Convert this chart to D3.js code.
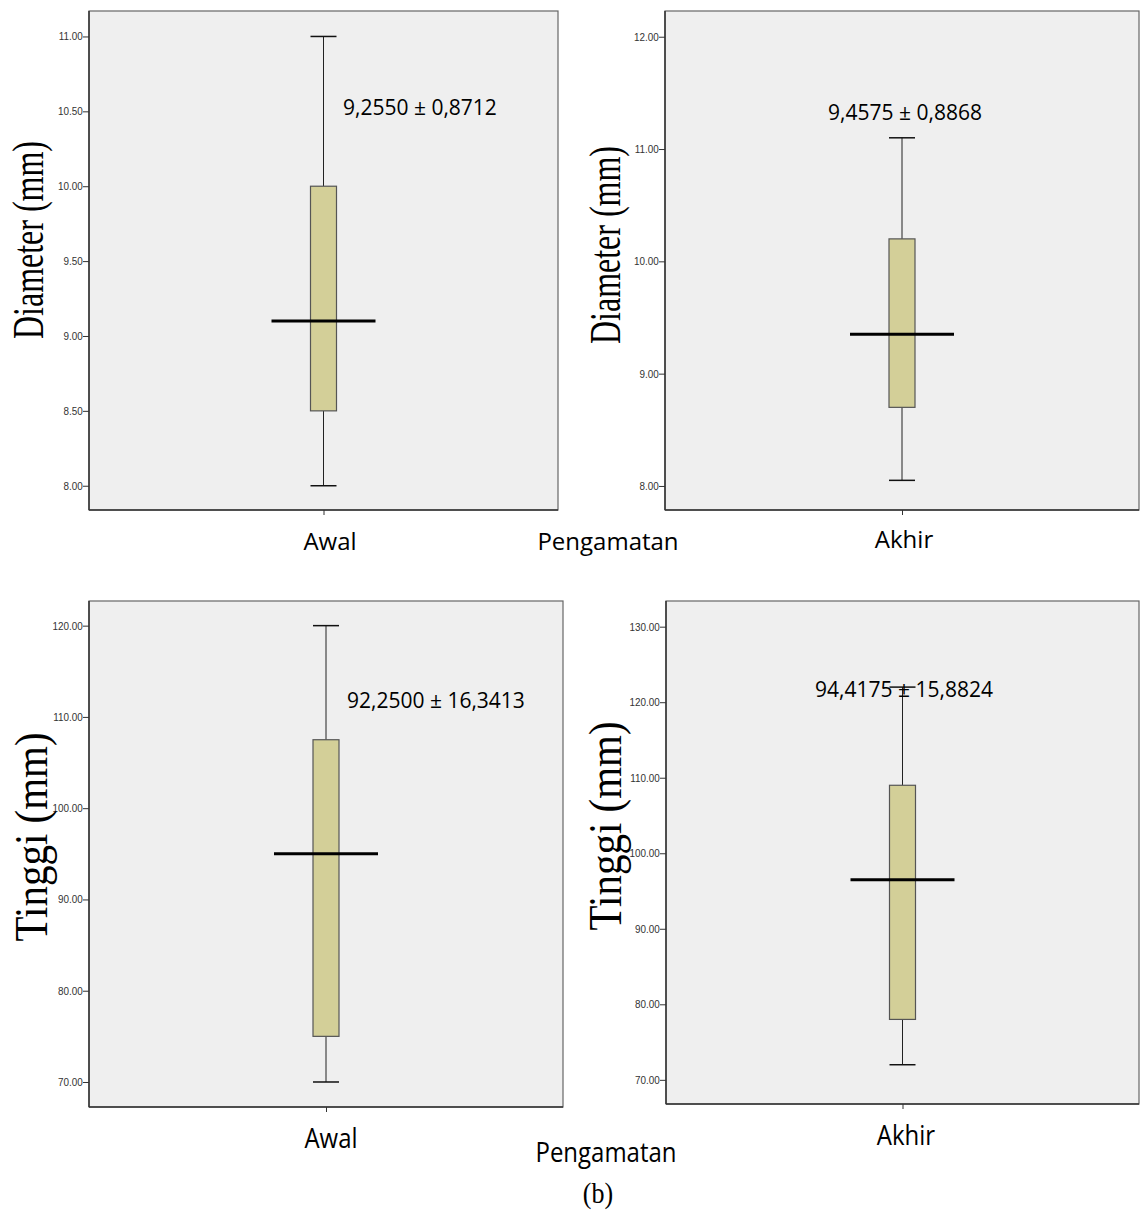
<!DOCTYPE html>
<html>
<head>
<meta charset="utf-8">
<script src="https://cdn.jsdelivr.net/npm/d3@7"></script>
<style>
  body { margin: 0; background: #fff; }
  svg { display: block; }
</style>
</head>
<body>
<script>
// data: [min, Q1, median, Q3, max]
const groups = ["Awal", "Akhir"];
const diameterBox = [[8.00, 8.50, 9.10, 10.00, 11.00], [8.05, 8.70, 9.35, 10.20, 11.10]];
const tinggiBox = [[70, 75, 95, 107.5, 120], [72, 78, 96.5, 109, 122]];
const diameterNotes = ["9,2550 ± 0,8712", "9,4575 ± 0,8868"];
const tinggiNotes = ["92,2500 ± 16,3413", "94,4175 ± 15,8824"];
const diameterTicks = [[8, 8.5, 9, 9.5, 10, 10.5, 11], [8, 9, 10, 11, 12]];
const tinggiTicks = [[70, 80, 90, 100, 110, 120], [70, 80, 90, 100, 110, 120, 130]];
const diameterRange = [[7.838, 11.17], [7.786, 12.229]];
const tinggiRange = [[67.26, 122.7], [66.8, 133.4]];

const width = 1140, height = 1210;
const svg = d3.select("body").append("svg")
    .attr("width", width)
    .attr("height", height);

// panel placement
const panels = [
    {x0: 89, x1: 558, y0: 11, y1: 510, g: 0, box: diameterBox, note: diameterNotes, ticks: diameterTicks, dom: diameterRange,
     title: "Diameter (mm)", tx: 43, ty: 240, tsize: 32, tscale: 1.4, noteX: 343, noteY: 115, anchor: "start"},
    {x0: 665, x1: 1139, y0: 11, y1: 510, g: 1, box: diameterBox, note: diameterNotes, ticks: diameterTicks, dom: diameterRange,
     title: "Diameter (mm)", tx: 620, ty: 245, tsize: 32, tscale: 1.4, noteX: 905, noteY: 120, anchor: "middle"},
    {x0: 89, x1: 563, y0: 601, y1: 1107, g: 0, box: tinggiBox, note: tinggiNotes, ticks: tinggiTicks, dom: tinggiRange,
     title: "Tinggi (mm)", tx: 47, ty: 837, tsize: 41, tscale: 1.15, noteX: 347, noteY: 708, anchor: "start"},
    {x0: 666, x1: 1139, y0: 601, y1: 1104, g: 1, box: tinggiBox, note: tinggiNotes, ticks: tinggiTicks, dom: tinggiRange,
     title: "Tinggi (mm)", tx: 621, ty: 826, tsize: 41, tscale: 1.15, noteX: 904, noteY: 697, anchor: "middle"}
];

panels.forEach(p => {
    const i = p.g;
    const x = d3.scalePoint().domain([groups[i]]).range([p.x0, p.x1]).padding(0.5);
    const y = d3.scaleLinear().domain(p.dom[i]).range([p.y1, p.y0]);
    const g = svg.append("g");
    const s = p.box[i];
    const cx = x(groups[i]);

    // plot area
    g.append("rect")
        .attr("x", p.x0).attr("y", p.y0)
        .attr("width", p.x1 - p.x0).attr("height", p.y1 - p.y0)
        .attr("fill", "#efefef")
        .attr("stroke", "#666")
        .attr("stroke-width", 1.2);

    // y axis
    const yAxis = d3.axisLeft(y).tickValues(p.ticks[i]).tickSize(6).tickPadding(1)
        .tickFormat(d3.format(".2f"));
    const ya = g.append("g").attr("transform", `translate(${p.x0},0)`).call(yAxis);
    ya.select(".domain").attr("stroke", "#333").attr("stroke-width", 1.5)
        .attr("d", `M0,${p.y0}V${p.y1}`);
    ya.selectAll(".tick line").attr("stroke", "#333");
    ya.selectAll(".tick text")
        .attr("transform", "scale(0.9,1)")
        .style("font-family", "'Liberation Sans Narrow', 'Arial Narrow', sans-serif")
        .style("font-size", "11px")
        .attr("fill", "#333");

    // x axis
    const xAxis = d3.axisBottom(x).tickSize(5).tickFormat("");
    const xa = g.append("g").attr("transform", `translate(0,${p.y1})`).call(xAxis);
    xa.select(".domain").attr("stroke", "#333").attr("stroke-width", 1.5)
        .attr("d", `M${p.x0},0H${p.x1}`);
    xa.selectAll(".tick line").attr("stroke", "#333");

    // whiskers
    const bw = 26;
    g.append("line").attr("x1", cx).attr("x2", cx).attr("y1", y(s[0])).attr("y2", y(s[1]))
        .attr("stroke", "#222").attr("stroke-width", 1);
    g.append("line").attr("x1", cx).attr("x2", cx).attr("y1", y(s[3])).attr("y2", y(s[4]))
        .attr("stroke", "#222").attr("stroke-width", 1);
    [s[0], s[4]].forEach(v => {
        g.append("line").attr("x1", cx - bw / 2).attr("x2", cx + bw / 2)
            .attr("y1", y(v)).attr("y2", y(v))
            .attr("stroke", "#111").attr("stroke-width", 1.5);
    });

    // box
    g.append("rect")
        .attr("x", cx - bw / 2).attr("y", y(s[3]))
        .attr("width", bw).attr("height", y(s[1]) - y(s[3]))
        .attr("fill", "#d3cf98")
        .attr("stroke", "#555").attr("stroke-width", 1.2);

    // median
    g.append("line").attr("x1", cx - 52).attr("x2", cx + 52)
        .attr("y1", y(s[2])).attr("y2", y(s[2]))
        .attr("stroke", "#000").attr("stroke-width", 3);

    // mean ± sd note
    g.append("text")
        .attr("x", p.noteX).attr("y", p.noteY)
        .attr("text-anchor", p.anchor)
        .style("font-family", "'Open Sans', sans-serif")
        .style("font-size", "21px")
        .attr("fill", "#000")
        .text(p.note[i]);

    // y title
    g.append("text")
        .attr("transform", `translate(${p.tx},${p.ty}) rotate(-90) scale(1,${p.tscale})`)
        .attr("text-anchor", "middle")
        .style("font-family", "'Liberation Serif', 'Times New Roman', serif")
        .style("font-size", p.tsize + "px")
        .attr("fill", "#000")
        .text(p.title);
});

// category and axis labels under the panels (bottom row is a little stretched)
const labels = [
    {t: groups[0], x: 330, y: 550, k: 1}, {t: "Pengamatan", x: 608, y: 550, k: 1}, {t: groups[1], x: 904, y: 548, k: 1},
    {t: groups[0], x: 331, y: 1148, k: 1.12}, {t: "Pengamatan", x: 606, y: 1162, k: 1.12}, {t: groups[1], x: 906, y: 1145, k: 1.12}
];
svg.selectAll(".lab")
    .data(labels)
    .enter().append("text")
    .attr("class", "lab")
    .attr("transform", d => `translate(${d.x},${d.y}) scale(1,${d.k})`)
    .attr("text-anchor", "middle")
    .style("font-family", "'Open Sans', sans-serif")
    .style("font-size", "24px")
    .attr("fill", "#000")
    .text(d => d.t);

svg.append("text")
    .attr("transform", "translate(598,1203) scale(1,1.1)")
    .attr("text-anchor", "middle")
    .style("font-family", "'Liberation Serif', 'Times New Roman', serif")
    .style("font-size", "26px")
    .text("(b)");
</script>
</body>
</html>
